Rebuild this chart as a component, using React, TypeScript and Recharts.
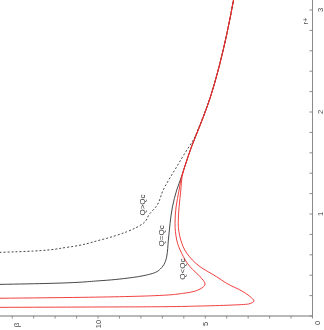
import React from 'react';
import { LineChart, Line, XAxis, YAxis, ReferenceDot } from 'recharts';

// r+ tick values (minor every 0.2) and labelled ticks
const rTicks = [0, 0.2, 0.4, 0.6, 0.8, 1, 1.2, 1.4, 1.6, 1.8, 2, 2.2, 2.4, 2.6, 2.8, 3];
const rLabelValues = [1, 2, 3];
const betaTicks = [0, 1, 2, 3, 4, 5, 6, 7, 8, 9, 10, 11, 12, 13, 14];
const betaLabelValues = [5, 10];
const originLabel = '0';
const xAxisName = 'r+';
const yAxisName = 'β';

// shared large-r tail where all curves merge
const tail = [
  { r: 1.5, beta: 5.9 },
  { r: 1.66, beta: 5.64 },
  { r: 1.86, beta: 5.26 },
  { r: 2.12, beta: 4.8 },
  { r: 2.44, beta: 4.36 },
  { r: 2.78, beta: 3.98 },
  { r: 3.1, beta: 3.68 },
];

// Q > Qc (dashed)
const qGreater = [
  { r: 0.624, beta: 14.6 },
  { r: 0.637, beta: 13.0 },
  { r: 0.673, beta: 11.46 },
  { r: 0.745, beta: 9.9 },
  { r: 0.826, beta: 8.66 },
  { r: 0.909, beta: 7.89 },
  { r: 1.0, beta: 7.6 },
  { r: 1.07, beta: 7.3 },
  { r: 1.235, beta: 6.96 },
  { r: 1.464, beta: 6.33 },
  { r: 1.627, beta: 5.86 },
  { r: 1.725, beta: 5.56 },
  { r: 1.86, beta: 5.28 },
  { r: 2.12, beta: 4.81 },
  { r: 2.44, beta: 4.36 },
  { r: 2.78, beta: 3.98 },
  { r: 3.1, beta: 3.68 },
];

// Q = Qc (solid black)
const qCritical = [
  { r: 0.31, beta: 14.6 },
  { r: 0.32, beta: 12.24 },
  { r: 0.346, beta: 9.9 },
  { r: 0.379, beta: 8.35 },
  { r: 0.41, beta: 7.58 },
  { r: 0.46, beta: 7.1 },
  { r: 0.58, beta: 6.8 },
  { r: 0.745, beta: 6.72 },
  { r: 0.909, beta: 6.64 },
  { r: 1.07, beta: 6.53 },
  { r: 1.235, beta: 6.33 },
  { r: 1.37, beta: 6.1 },
  ...tail,
];

// Q < Qc, first value (red, inner)
const qLess1 = [
  { r: 0.174, beta: 14.6 },
  { r: 0.183, beta: 10.8 },
  { r: 0.2, beta: 7.3 },
  { r: 0.2225, beta: 6.02 },
  { r: 0.265, beta: 5.24 },
  { r: 0.314, beta: 5.01 },
  { r: 0.385, beta: 5.24 },
  { r: 0.483, beta: 5.71 },
  { r: 0.615, beta: 6.1 },
  { r: 0.745, beta: 6.33 },
  { r: 0.909, beta: 6.41 },
  { r: 1.07, beta: 6.36 },
  { r: 1.235, beta: 6.22 },
  { r: 1.37, beta: 6.1 },
  ...tail,
];

// Q < Qc, second value (red, outer)
const qLess2 = [
  { r: 0.085, beta: 14.6 },
  { r: 0.088, beta: 10.5 },
  { r: 0.091, beta: 7.1 },
  { r: 0.098, beta: 5.24 },
  { r: 0.108, beta: 3.69 },
  { r: 0.118, beta: 2.98 },
  { r: 0.147, beta: 2.73 },
  { r: 0.19, beta: 2.91 },
  { r: 0.238, beta: 3.23 },
  { r: 0.32, beta: 4.0 },
  { r: 0.385, beta: 4.47 },
  { r: 0.483, beta: 5.24 },
  { r: 0.615, beta: 5.86 },
  { r: 0.745, beta: 6.14 },
  { r: 0.909, beta: 6.26 },
  { r: 1.07, beta: 6.22 },
  { r: 1.235, beta: 6.14 },
  { r: 1.37, beta: 6.08 },
  ...tail,
];

const curveLabels = [
  { text: 'Q>Qc', r: 1.088, beta: 7.93 },
  { text: 'Q=Qc', r: 0.786, beta: 7.07 },
  { text: 'Q<Qc', r: 0.46, beta: 6.08 },
];

const FONT = 'Liberation Sans, Arial, Helvetica, sans-serif';
const AXIS = '#8a8a8a';
const TEXT = '#444';
const RED = '#ee2b2b';

const XTick = (props: any) => {
  const { x, y, payload } = props;
  const v = payload.value as number;
  const showLabel = rLabelValues.some((l) => Math.abs(l - v) < 1e-6);
  return (
    <g>
      <line x1={x} y1={y} x2={x} y2={y - 3} stroke={AXIS} strokeWidth={1} />
      {showLabel && (
        <text x={x} y={y + 7.5} textAnchor="middle" dominantBaseline="central" fontSize={7.5} fill={TEXT} fontFamily={FONT}>
          {String(v)}
        </text>
      )}
      {v === 0 && (
        <text x={x - 7} y={y + 4.5} textAnchor="middle" dominantBaseline="central" fontSize={7.5} fill={TEXT} fontFamily={FONT}>
          {originLabel}
        </text>
      )}
      {v === 3 && (
        <text x={x - 11} y={y - 7.5} textAnchor="middle" dominantBaseline="central" fontSize={7.5} fill={TEXT} fontFamily={FONT}>
          {xAxisName}
        </text>
      )}
    </g>
  );
};

const YTick = (props: any) => {
  const { x, y, payload } = props;
  const v = payload.value as number;
  const showLabel = betaLabelValues.includes(v);
  return (
    <g>
      <line x1={x} y1={y} x2={x - 2.5} y2={y} stroke={AXIS} strokeWidth={1} />
      {showLabel && (
        <text x={x - 8} y={y} textAnchor="middle" dominantBaseline="central" fontSize={7.5} fill={TEXT} fontFamily={FONT}>
          {String(v)}
        </text>
      )}
      {v === 14 && (
        <text x={x - 9} y={y + 4} textAnchor="middle" dominantBaseline="central" fontSize={8} fill={TEXT} fontFamily={FONT}>
          {yAxisName}
        </text>
      )}
    </g>
  );
};

export default function App() {
  return (
    <div
      style={{
        position: 'fixed',
        left: 0,
        top: 0,
        width: 330,
        height: 324,
        transformOrigin: '0 0',
        transform: 'translateY(330px) rotate(-90deg)',
        background: '#fff',
      }}
    >
      <LineChart width={330} height={324} margin={{ top: 0, right: 0, bottom: 0, left: 0 }}>
        <XAxis
          dataKey="r"
          type="number"
          domain={[0, 3.098]}
          allowDataOverflow
          ticks={rTicks}
          interval={0}
          height={11.5}
          tickSize={0}
          tickMargin={0}
          tickLine={false}
          tick={<XTick />}
          axisLine={{ stroke: AXIS, strokeWidth: 1.2 }}
        />
        <YAxis
          type="number"
          domain={[0, 14.57]}
          allowDataOverflow
          ticks={betaTicks}
          interval={0}
          width={14}
          tickSize={0}
          tickMargin={0}
          tickLine={false}
          tick={<YTick />}
          axisLine={{ stroke: AXIS, strokeWidth: 1.2 }}
        />
        <Line data={qGreater} dataKey="beta" type="monotone" stroke="#333" strokeWidth={0.9} strokeDasharray="2 2" dot={false} isAnimationActive={false} />
        <Line data={qCritical} dataKey="beta" type="monotone" stroke="#333" strokeWidth={0.9} dot={false} isAnimationActive={false} />
        <Line data={qLess1} dataKey="beta" type="monotone" stroke={RED} strokeWidth={0.9} dot={false} isAnimationActive={false} />
        <Line data={qLess2} dataKey="beta" type="monotone" stroke={RED} strokeWidth={0.9} dot={false} isAnimationActive={false} />
        {curveLabels.map((l) => (
          <ReferenceDot
            key={l.text}
            x={l.r}
            y={l.beta}
            r={0}
            fill="none"
            stroke="none"
            label={{ value: l.text, position: 'center', fontSize: 8, fill: '#333', fontFamily: FONT }}
          />
        ))}
      </LineChart>
    </div>
  );
}
